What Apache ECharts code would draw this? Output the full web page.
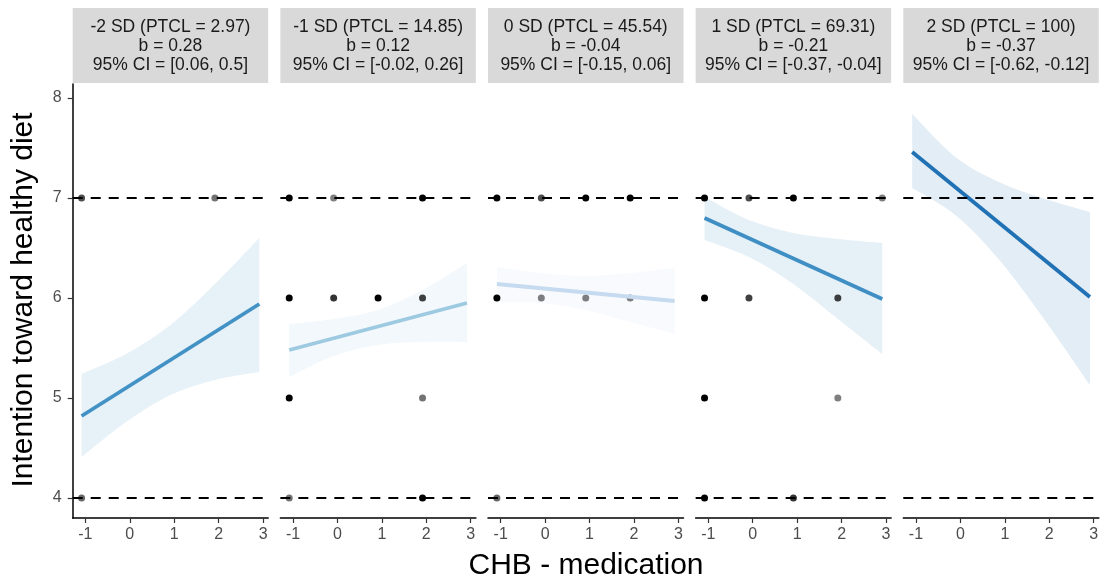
<!DOCTYPE html>
<html>
<head>
<meta charset="utf-8">
<script src="https://cdn.jsdelivr.net/npm/echarts@6/dist/echarts.min.js"></script>
<style>
html,body{margin:0;padding:0;background:#fff;}
#chart{width:1102px;height:587px;}
</style>
</head>
<body>
<div id="chart"></div>
<script>
// ---------- data ----------
const stripSD = ['-2 SD (PTCL = 2.97)', '-1 SD (PTCL = 14.85)', '0 SD (PTCL = 45.54)', '1 SD (PTCL = 69.31)', '2 SD (PTCL = 100)'];
const stripB = ['b = 0.28', 'b = 0.12', 'b = -0.04', 'b = -0.21', 'b = -0.37'];
const stripCI = ['95% CI = [0.06, 0.5]', '95% CI = [-0.02, 0.26]', '95% CI = [-0.15, 0.06]', '95% CI = [-0.37, -0.04]', '95% CI = [-0.62, -0.12]'];

const xTicks = [-1, 0, 1, 2, 3];
const yTicks = [4, 5, 6, 7, 8];
const refLines = [4, 7];

// x positions of the observed CHB values (centred predictor)
const xGrid = [-1.085, -0.085, 0.915, 1.915, 2.915];

// fitted line end points (at first and last xGrid)
const fitStart = [4.82, 5.48, 6.14, 6.80, 7.46];
const fitEnd   = [5.94, 5.95, 5.97, 5.99, 6.01];

// confidence band, upper and lower, at xGrid
const bandUpper = [
  [5.24, 5.44, 5.73, 6.14, 6.60],
  [5.74, 5.79, 5.88, 6.08, 6.35],
  [6.31, 6.25, 6.22, 6.25, 6.30],
  [7.01, 6.78, 6.65, 6.59, 6.55],
  [7.84, 7.40, 7.15, 6.99, 6.86]
];
const bandLower = [
  [4.41, 4.76, 5.03, 5.18, 5.26],
  [5.21, 5.42, 5.53, 5.56, 5.56],
  [5.96, 5.95, 5.88, 5.76, 5.64],
  [6.58, 6.41, 6.14, 5.79, 5.44],
  [7.10, 6.82, 6.36, 5.77, 5.13]
];

// observed points: [x, y, opacity]
const points1 = [[-1.085, 7, 0.7], [1.915, 7, 0.55], [-1.085, 4, 0.6]];
const points2 = [
  [-1.085, 7, 1], [-0.085, 7, 0.5], [1.915, 7, 1],
  [-1.085, 6, 1], [-0.085, 6, 0.8], [0.915, 6, 1], [1.915, 6, 0.75],
  [-1.085, 5, 1], [1.915, 5, 0.55],
  [-1.085, 4, 0.55], [1.915, 4, 1]
];
const points3 = [
  [-1.085, 7, 1], [-0.085, 7, 0.7], [0.915, 7, 1], [1.915, 7, 1],
  [-1.085, 6, 1], [-0.085, 6, 0.5], [0.915, 6, 0.5], [1.915, 6, 0.5],
  [-1.085, 4, 0.6]
];
const points4 = [
  [-1.085, 7, 1], [-0.085, 7, 0.7], [0.915, 7, 1], [2.915, 7, 0.5],
  [-1.085, 6, 1], [-0.085, 6, 0.75], [1.915, 6, 0.75],
  [-1.085, 5, 1], [1.915, 5, 0.5],
  [-1.085, 4, 1], [0.915, 4, 0.8]
];
const points5 = [];
const panelPoints = [points1, points2, points3, points4, points5];

const lineColors = ['#4292c6', '#9ecae1', '#c6dbef', '#3f8ec4', '#2171b5'];

// ---------- layout ----------
const FONT = '"Liberation Sans", Arial, Helvetica, sans-serif';
const P_LEFT0 = 72.7, P_STEP = 207.65, P_W = 195.5, P_TOP = 84, P_H = 434;
const X_MIN = -1.285, X_MAX = 3.115, Y_MIN = 3.8, Y_MAX = 8.14;

function hexA(hex, a) {
  const n = parseInt(hex.slice(1), 16);
  return 'rgba(' + ((n >> 16) & 255) + ',' + ((n >> 8) & 255) + ',' + (n & 255) + ',' + a + ')';
}

// smooth path through screen points (Catmull-Rom as cubic Bezier)
function curveSegs(pts) {
  let d = '';
  for (let k = 0; k < pts.length - 1; k++) {
    const p0 = pts[Math.max(k - 1, 0)], p1 = pts[k], p2 = pts[k + 1], p3 = pts[Math.min(k + 2, pts.length - 1)];
    const c1 = [p1[0] + (p2[0] - p0[0]) / 6, p1[1] + (p2[1] - p0[1]) / 6];
    const c2 = [p2[0] - (p3[0] - p1[0]) / 6, p2[1] - (p3[1] - p1[1]) / 6];
    d += ' C' + c1[0] + ',' + c1[1] + ' ' + c2[0] + ',' + c2[1] + ' ' + p2[0] + ',' + p2[1];
  }
  return d;
}

const grids = [], xAxes = [], yAxes = [], series = [], graphics = [];
for (let i = 0; i < 5; i++) {
  const left = P_LEFT0 + i * P_STEP;
  grids.push({ left: left, top: P_TOP, width: P_W, height: P_H });
  xAxes.push({
    type: 'value', gridIndex: i, min: X_MIN, max: X_MAX,
    axisLine: { show: true, onZero: false, lineStyle: { color: '#000', width: 1.5 } },
    axisTick: { show: true, length: 5, customValues: xTicks, lineStyle: { color: '#333', width: 1.2 } },
    axisLabel: { show: true, customValues: xTicks, color: '#4d4d4d', fontSize: 16, fontFamily: FONT, margin: 9,
      formatter: v => String(v) },
    splitLine: { show: false }
  });
  if (i === 0) {
    yAxes.push({
      type: 'value', gridIndex: i, min: Y_MIN, max: Y_MAX,
      axisLine: { show: true, onZero: false, lineStyle: { color: '#000', width: 1.5 } },
      axisTick: { show: true, length: 5, customValues: yTicks, lineStyle: { color: '#333', width: 1.2 } },
      axisLabel: { show: true, customValues: yTicks, color: '#4d4d4d', fontSize: 16, fontFamily: FONT, margin: 11 },
      splitLine: { show: false }
    });
  } else {
    yAxes.push({ type: 'value', gridIndex: i, min: Y_MIN, max: Y_MAX, show: false, splitLine: { show: false } });
  }

  // confidence band (custom polygon through the read values)
  const up = bandUpper[i], lo = bandLower[i], fill = hexA(lineColors[i], 0.13);
  series.push({
    type: 'custom', xAxisIndex: i, yAxisIndex: i, z: 1, silent: true,
    data: [[xGrid[0], lo[0]]],
    renderItem: function (params, api) {
      const upPts = xGrid.map((x, k) => api.coord([x, up[k]]));
      const loPts = xGrid.map((x, k) => api.coord([x, lo[k]])).reverse();
      let d = 'M' + upPts[0][0] + ',' + upPts[0][1] + curveSegs(upPts);
      d += ' L' + loPts[0][0] + ',' + loPts[0][1] + curveSegs(loPts) + ' Z';
      return { type: 'path', shape: { pathData: d }, style: { fill: fill, stroke: null } };
    }
  });
  // reference dashed lines
  series.push({
    type: 'line', xAxisIndex: i, yAxisIndex: i, z: 2, silent: true, symbol: 'none',
    data: [],
    markLine: {
      silent: true, symbol: ['none', 'none'], animation: false,
      label: { show: false },
      lineStyle: { color: '#000', width: 2, type: [10, 8] },
      data: refLines.map(v => ({ yAxis: v }))
    }
  });
  // points
  series.push({
    type: 'scatter', xAxisIndex: i, yAxisIndex: i, z: 3, silent: true,
    symbolSize: 7,
    data: panelPoints[i].map(p => ({ value: [p[0], p[1]], itemStyle: { color: '#000', opacity: p[2] } }))
  });
  // fitted line
  series.push({
    type: 'line', xAxisIndex: i, yAxisIndex: i, z: 4, silent: true, symbol: 'none',
    lineStyle: { color: lineColors[i], width: 3.8, cap: 'butt' },
    data: [[xGrid[0], fitStart[i]], [xGrid[xGrid.length - 1], fitEnd[i]]]
  });

  // strip
  graphics.push({
    type: 'rect', left: left, top: 8, shape: { width: P_W, height: 75 },
    style: { fill: '#d9d9d9' }, silent: true
  });
  graphics.push({
    type: 'text', x: left + P_W / 2, y: 46, silent: true,
    style: {
      text: [stripSD[i], stripB[i], stripCI[i]].join('\n'),
      font: '17.5px ' + FONT, fill: '#1a1a1a',
      align: 'center', verticalAlign: 'middle', textAlign: 'center', textVerticalAlign: 'middle',
      lineHeight: 19
    }
  });
}

graphics.push({
  type: 'text', x: 586, y: 566, silent: true,
  style: { text: 'CHB - medication', font: '30px ' + FONT, fill: '#000',
    align: 'center', verticalAlign: 'middle', textAlign: 'center', textVerticalAlign: 'middle' }
});
graphics.push({
  type: 'text', x: 24, y: 300, rotation: Math.PI / 2, silent: true,
  style: { text: 'Intention toward healthy diet', font: '30px ' + FONT, fill: '#000',
    align: 'center', verticalAlign: 'middle', textAlign: 'center', textVerticalAlign: 'middle' }
});

const chart = echarts.init(document.getElementById('chart'), null, { renderer: 'canvas' });
chart.setOption({
  animation: false,
  backgroundColor: '#fff',
  grid: grids,
  xAxis: xAxes,
  yAxis: yAxes,
  series: series,
  graphic: graphics
});
</script>
</body>
</html>
